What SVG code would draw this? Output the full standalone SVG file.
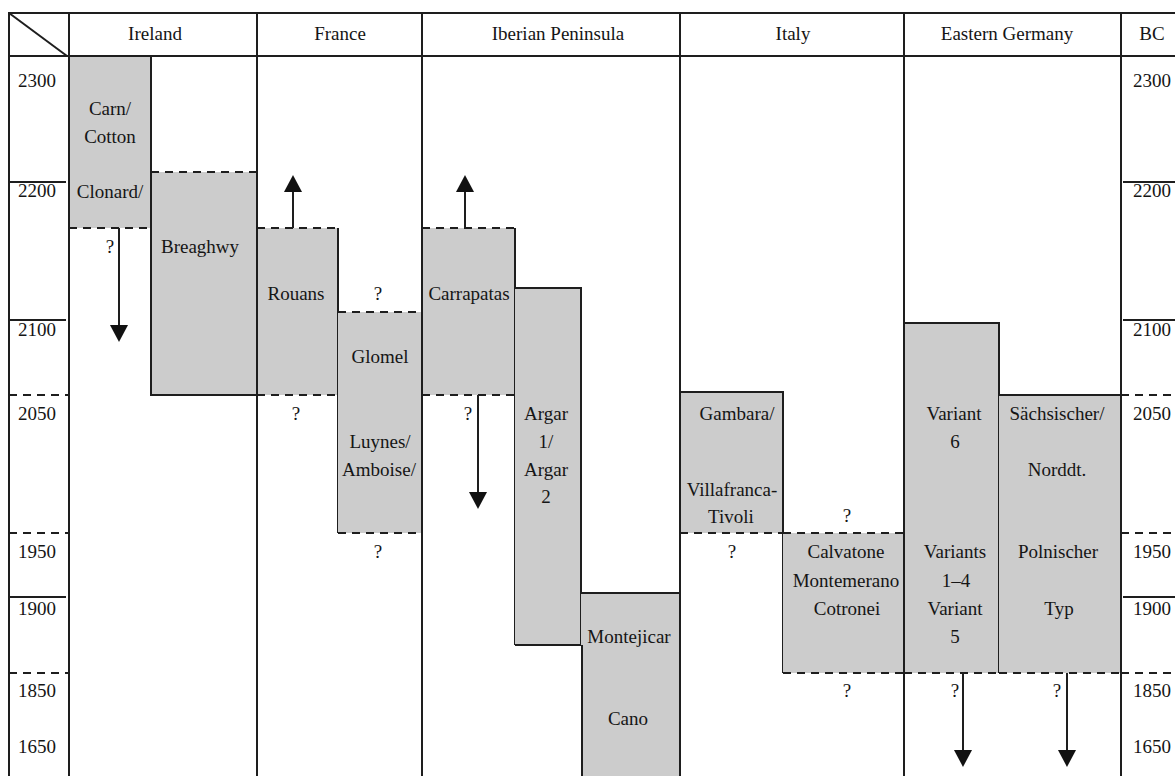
<svg xmlns="http://www.w3.org/2000/svg" width="1175" height="776" viewBox="0 0 1175 776">
<defs>
<style>
.b{fill:#cccccc;stroke:none}
.s{stroke:#1e1e1e;stroke-width:2;fill:none}
.d{stroke:#1e1e1e;stroke-width:2;fill:none;stroke-dasharray:8 6}
text{font-family:"Liberation Serif","Times New Roman",serif;font-size:19px;fill:#151515;text-anchor:middle}
</style>
<marker id="ah" markerUnits="userSpaceOnUse" markerWidth="18" markerHeight="18" viewBox="0 0 17 18" refX="0" refY="9" orient="auto"><path d="M0,0 L17,9 L0,18 z" fill="#111"/></marker>
</defs>
<rect width="1175" height="776" fill="#fff"/>

<g id="carn">
<rect class="b" x="69" y="56" width="82" height="172"/>
<line class="d" x1="69" y1="228" x2="151" y2="228"/>
<text x="110" y="115">Carn/</text>
<text x="110" y="143">Cotton</text>
<text x="110" y="198">Clonard/</text>
</g>
<g id="breaghwy">
<rect class="b" x="151" y="172" width="106" height="223"/>
<line class="d" x1="151" y1="172" x2="257" y2="172"/>
<line class="s" x1="151" y1="56" x2="151" y2="396"/>
<line class="s" x1="151" y1="395" x2="257" y2="395"/>
<text x="200" y="253">Breaghwy</text>
</g>
<g id="rouans">
<rect class="b" x="257" y="228" width="81" height="167"/>
<line class="d" x1="257" y1="228" x2="338" y2="228"/>
<line class="s" x1="338" y1="228" x2="338" y2="533"/>
<line class="d" x1="257" y1="395" x2="338" y2="395"/>
<text x="296" y="300">Rouans</text>
</g>
<g id="glomel">
<rect class="b" x="338" y="312" width="84" height="221"/>
<line class="d" x1="338" y1="312" x2="422" y2="312"/>
<line class="d" x1="338" y1="533" x2="422" y2="533"/>
<text x="380" y="363">Glomel</text>
<text x="380" y="448">Luynes/</text>
<text x="379" y="476">Amboise/</text>
</g>
<g id="carrapatas">
<rect class="b" x="422" y="228" width="93" height="167"/>
<line class="d" x1="422" y1="228" x2="515" y2="228"/>
<line class="s" x1="515" y1="228" x2="515" y2="645"/>
<line class="d" x1="422" y1="395" x2="515" y2="395"/>
<text x="469" y="300">Carrapatas</text>
</g>
<g id="argar">
<rect class="b" x="515" y="288" width="66" height="357"/>
<line class="s" x1="515" y1="288" x2="581" y2="288"/>
<line class="s" x1="581" y1="287" x2="581" y2="646"/>
<line class="s" x1="515" y1="645" x2="582" y2="645"/>
<text x="546" y="420">Argar</text>
<text x="546" y="448">1/</text>
<text x="546" y="476">Argar</text>
<text x="546" y="503">2</text>
</g>
<g id="montejicar">
<rect class="b" x="581" y="593" width="99" height="183"/>
<line class="s" x1="581" y1="593" x2="680" y2="593"/>
<line class="s" x1="582" y1="645" x2="582" y2="776"/>
<text x="629" y="643">Montejicar</text>
<text x="628" y="725">Cano</text>
</g>
<g id="gambara">
<rect class="b" x="680" y="392" width="103" height="141"/>
<line class="s" x1="680" y1="392" x2="783" y2="392"/>
<line class="s" x1="783" y1="391" x2="783" y2="673"/>
<line class="d" x1="680" y1="533" x2="783" y2="533"/>
<text x="737" y="420">Gambara/</text>
<text x="732" y="496">Villafranca-</text>
<text x="731" y="523">Tivoli</text>
</g>
<g id="calvatone">
<rect class="b" x="783" y="533" width="121" height="140"/>
<line class="d" x1="783" y1="533" x2="904" y2="533"/>
<line class="d" x1="783" y1="673" x2="904" y2="673"/>
<text x="846" y="558">Calvatone</text>
<text x="846" y="587">Montemerano</text>
<text x="847" y="615">Cotronei</text>
</g>
<g id="variant">
<rect class="b" x="904" y="323" width="95" height="350"/>
<line class="s" x1="904" y1="323" x2="999" y2="323"/>
<line class="s" x1="999" y1="322" x2="999" y2="673"/>
<line class="d" x1="904" y1="673" x2="999" y2="673"/>
<text x="954" y="420">Variant</text>
<text x="955" y="448">6</text>
<text x="955" y="558">Variants</text>
<text x="956" y="587">1–4</text>
<text x="955" y="615">Variant</text>
<text x="955" y="643">5</text>
</g>
<g id="saechsischer">
<rect class="b" x="999" y="395" width="122" height="278"/>
<line class="s" x1="999" y1="395" x2="1121" y2="395"/>
<line class="d" x1="999" y1="673" x2="1121" y2="673"/>
<text x="1057" y="420">Sächsischer/</text>
<text x="1057" y="476">Norddt.</text>
<text x="1058" y="558">Polnischer</text>
<text x="1059" y="615">Typ</text>
</g>

<g id="grid">
<line class="s" x1="9" y1="13" x2="1175" y2="13"/>
<line class="s" x1="9" y1="56" x2="1175" y2="56"/>
<line class="s" x1="9" y1="12" x2="9" y2="776"/>
<line class="s" x1="69" y1="12" x2="69" y2="776"/>
<line class="s" x1="257" y1="12" x2="257" y2="776"/>
<line class="s" x1="422" y1="12" x2="422" y2="776"/>
<line class="s" x1="680" y1="12" x2="680" y2="776"/>
<line class="s" x1="904" y1="12" x2="904" y2="776"/>
<line class="s" x1="1121" y1="12" x2="1121" y2="776"/>
<line class="s" x1="9" y1="13" x2="67" y2="56"/>
<line class="s" x1="9" y1="182" x2="66" y2="182"/>
<line class="s" x1="9" y1="320" x2="66" y2="320"/>
<line class="s" x1="9" y1="597" x2="66" y2="597"/>
<line class="d" x1="9" y1="395" x2="69" y2="395"/>
<line class="d" x1="9" y1="533" x2="69" y2="533"/>
<line class="d" x1="9" y1="673" x2="69" y2="673"/>
<line class="s" x1="1123" y1="182" x2="1175" y2="182"/>
<line class="s" x1="1123" y1="320" x2="1175" y2="320"/>
<line class="s" x1="1123" y1="597" x2="1175" y2="597"/>
<line class="d" x1="1121" y1="395" x2="1175" y2="395"/>
<line class="d" x1="1121" y1="533" x2="1175" y2="533"/>
<line class="d" x1="1121" y1="673" x2="1175" y2="673"/>
</g>

<g id="headers">
<text x="155" y="40">Ireland</text>
<text x="340" y="40">France</text>
<text x="558" y="40">Iberian Peninsula</text>
<text x="793" y="40">Italy</text>
<text x="1007" y="40">Eastern Germany</text>
<text x="1152" y="40">BC</text>
</g>

<g id="years">
<text x="37" y="87">2300</text>
<text x="37" y="197">2200</text>
<text x="37" y="336">2100</text>
<text x="37" y="420">2050</text>
<text x="37" y="558">1950</text>
<text x="37" y="615">1900</text>
<text x="37" y="697">1850</text>
<text x="37" y="753">1650</text>
<text x="1152" y="87">2300</text>
<text x="1152" y="197">2200</text>
<text x="1152" y="336">2100</text>
<text x="1152" y="420">2050</text>
<text x="1152" y="558">1950</text>
<text x="1152" y="615">1900</text>
<text x="1152" y="697">1850</text>
<text x="1152" y="753">1650</text>
</g>

<g id="unknowns">
<text x="110" y="253">?</text>
<text x="378" y="300">?</text>
<text x="296" y="420">?</text>
<text x="378" y="558">?</text>
<text x="468" y="420">?</text>
<text x="732" y="558">?</text>
<text x="847" y="522">?</text>
<text x="847" y="697">?</text>
<text x="955" y="697">?</text>
<text x="1057" y="697">?</text>
</g>

<g id="connectors">
<line class="s" x1="119" y1="228" x2="119" y2="325" marker-end="url(#ah)"/>
<line class="s" x1="293" y1="228" x2="293" y2="192" marker-end="url(#ah)"/>
<line class="s" x1="465" y1="228" x2="465" y2="192" marker-end="url(#ah)"/>
<line class="s" x1="478" y1="395" x2="478" y2="492" marker-end="url(#ah)"/>
<line class="s" x1="963" y1="673" x2="963" y2="750" marker-end="url(#ah)"/>
<line class="s" x1="1067" y1="673" x2="1067" y2="750" marker-end="url(#ah)"/>
</g>
</svg>
